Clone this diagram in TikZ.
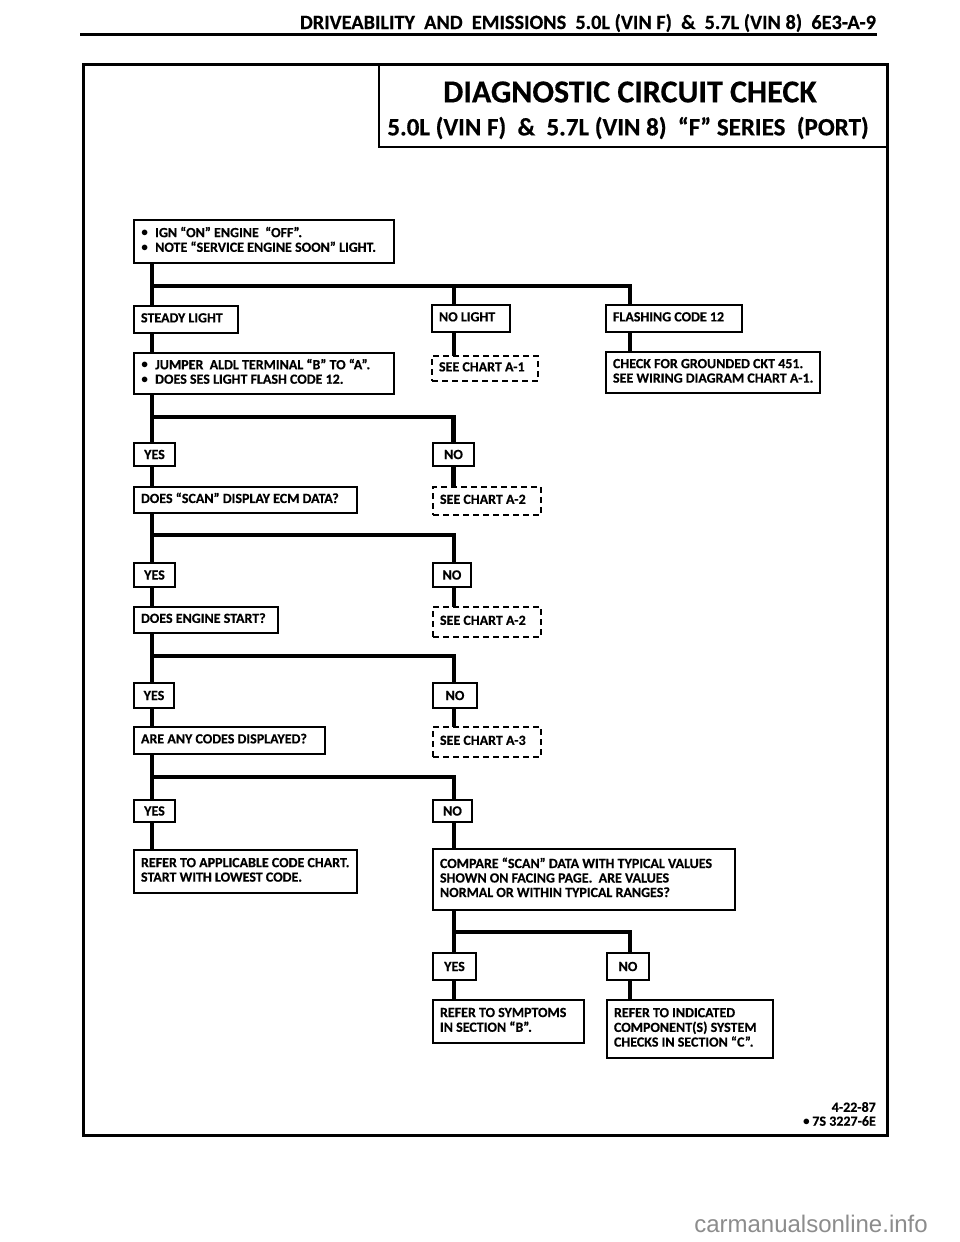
\documentclass[tikz,border=0pt]{standalone}
\usepackage{fontspec}
\setmainfont{Carlito}
\newfontfamily\bxf[BoldFeatures={FakeBold=0.4}]{Carlito}
\newfontfamily\hdf[BoldFeatures={FakeBold=0.4}]{Carlito}
\newfontfamily\wmf{Liberation Sans}
\newcommand\bt[2]{\makebox[#1][l]{\raisebox{-2pt}{\begin{tabular}{@{}l@{}}#2\end{tabular}}}}
\newcommand\bul{\raisebox{0.5pt}{$\bullet$}\hspace{7pt}}
\begin{document}
\begin{tikzpicture}[x=1pt,y=-1pt,
  box/.style={draw, line width=1.4pt, fill=white, anchor=north west, outer sep=0pt,
    inner xsep=7pt, inner ysep=0pt,
    font=\bxf\bfseries\fontsize{14}{14.5}\selectfont},
  dbox/.style={box, dash pattern=on 6pt off 4pt, line width=1.2pt},
  yn/.style={box, inner xsep=0pt},
  conn/.style={line width=4.5pt, line join=miter},
  hfont/.style={font=\hdf\bfseries\fontsize{#1}{#1}\selectfont}
]
\useasboundingbox (0,0) rectangle (960,1242);
\fill[white] (0,0) rectangle (960,1242);

% header
\node[anchor=base east, hfont=20.3, inner sep=0pt] (hdr) at (876,29)
  {DRIVEABILITY\ \ AND\ \ EMISSIONS\ \ 5.0L (VIN F)\ \ \&\ \ 5.7L (VIN 8)\ \ 6E3-A-9};
\draw[line width=2.5pt] (80,34.5) -- (877,34.5);

% frame and title box
\node[draw, line width=1.6pt, minimum width=508pt, minimum height=83pt, anchor=north west, outer sep=0pt, inner sep=0pt] (titlebox) at (379,64) {};
\draw[line width=3pt] (83,64) rectangle (887,1135);
\node[hfont=32] (t1) at (630,92) {DIAGNOSTIC CIRCUIT CHECK};
\node[hfont=25] (t2) at (628,128) {5.0L (VIN F) \ \& \ 5.7L (VIN 8) \ “F” SERIES \ (PORT)};

% column coordinates
\coordinate (T) at (152,0);
\coordinate (M) at (454,0);
\coordinate (R) at (630,0);

% boxes
\node[box, minimum width=260pt, minimum height=43pt] (top) at (134,220)
  {\bt{246pt}{\bul IGN “ON” ENGINE \ “OFF”.\\\bul NOTE “SERVICE ENGINE SOON” LIGHT.}};
\node[box, minimum width=104pt, minimum height=27pt] (steady) at (134,306) {\bt{90pt}{STEADY LIGHT}};
\node[box, minimum width=78pt, minimum height=27pt] (nolight) at (432,305) {\bt{64pt}{NO LIGHT}};
\node[box, minimum width=136pt, minimum height=27pt] (flash) at (606,305) {\bt{122pt}{FLASHING CODE 12}};
\node[box, minimum width=260pt, minimum height=41pt] (jumper) at (134,353)
  {\bt{246pt}{\bul JUMPER \ ALDL TERMINAL “B” TO “A”.\\\bul DOES SES LIGHT FLASH CODE 12.}};
\node[dbox, minimum width=106pt, minimum height=25pt] (seeA1) at (432,356) {\bt{92pt}{SEE CHART A-1}};
\node[box, minimum width=214pt, minimum height=41pt] (check) at (606,352)
  {\bt{200pt}{CHECK FOR GROUNDED CKT 451.\\SEE WIRING DIAGRAM CHART A-1.}};

\node[yn, minimum width=41pt, minimum height=23pt] (yes1) at (134,443) {YES};
\node[yn, minimum width=41pt, minimum height=23pt] (no1) at (433,443) {NO};
\node[box, minimum width=223pt, minimum height=26pt] (scan) at (134,487) {\bt{209pt}{DOES “SCAN” DISPLAY ECM DATA?}};
\node[dbox, minimum width=108pt, minimum height=28pt] (seeA2) at (433,487) {\bt{94pt}{SEE CHART A-2}};

\node[yn, minimum width=41pt, minimum height=24pt] (yes2) at (134,563) {YES};
\node[yn, minimum width=38pt, minimum height=24pt] (no2) at (433,563) {NO};
\node[box, minimum width=144pt, minimum height=26pt] (engine) at (134,607) {\bt{130pt}{DOES ENGINE START?}};
\node[dbox, minimum width=108pt, minimum height=30pt] (seeA2b) at (433,607) {\bt{94pt}{SEE CHART A-2}};

\node[yn, minimum width=40pt, minimum height=25pt] (yes3) at (134,683) {YES};
\node[yn, minimum width=44pt, minimum height=25pt] (no3) at (433,683) {NO};
\node[box, minimum width=191pt, minimum height=27pt] (codes) at (134,727) {\bt{177pt}{ARE ANY CODES DISPLAYED?}};
\node[dbox, minimum width=108pt, minimum height=30pt] (seeA3) at (433,727) {\bt{94pt}{SEE CHART A-3}};

\node[yn, minimum width=41pt, minimum height=22pt] (yes4) at (134,800) {YES};
\node[yn, minimum width=39pt, minimum height=22pt] (no4) at (433,800) {NO};
\node[box, minimum width=223pt, minimum height=43pt] (applic) at (134,850)
  {\bt{209pt}{REFER TO APPLICABLE CODE CHART.\\START WITH LOWEST CODE.}};
\node[box, minimum width=302pt, minimum height=61pt] (compare) at (433,849)
  {\bt{288pt}{COMPARE “SCAN” DATA WITH TYPICAL VALUES\\SHOWN ON FACING PAGE. \ ARE VALUES\\NORMAL OR WITHIN TYPICAL RANGES?}};

\node[yn, minimum width=43pt, minimum height=27pt] (yes5) at (433,953) {YES};
\node[yn, minimum width=42pt, minimum height=27pt] (no5) at (607,953) {NO};
\node[box, minimum width=151pt, minimum height=43pt] (symp) at (433,1000)
  {\bt{137pt}{REFER TO SYMPTOMS\\IN SECTION “B”.}};
\node[box, minimum width=166pt, minimum height=58pt] (indic) at (607,1000)
  {\bt{152pt}{REFER TO INDICATED\\COMPONENT(S) SYSTEM\\CHECKS IN SECTION “C”.}};

% connectors
\coordinate (b1) at (152,286);
\coordinate (b2) at (152,417);
\coordinate (b3) at (152,535);
\coordinate (b4) at (152,656);
\coordinate (b5) at (152,777);
\coordinate (b6) at (454,932);

\draw[conn] (top.south -| T) -- (steady.north -| T);
\draw[conn] (b1) -- (b1 -| R) -- (flash.north -| R);
\draw[conn] (b1 -| M) -- (nolight.north -| M);
\draw[conn] (steady.south -| T) -- (jumper.north -| T);
\draw[conn] (nolight.south -| M) -- (seeA1.north -| M);
\draw[conn] (flash.south -| R) -- (check.north -| R);

\draw[conn] (jumper.south -| T) -- (yes1.north -| T);
\draw[conn] (b2) -- (b2 -| no1.north) -- (no1.north);
\draw[conn] (yes1.south -| T) -- (scan.north -| T);
\draw[conn] (no1.south) -- (seeA2.north -| no1.south);

\draw[conn] (scan.south -| T) -- (yes2.north -| T);
\draw[conn] (b3) -- (b3 -| M) -- (no2.north -| M);
\draw[conn] (yes2.south -| T) -- (engine.north -| T);
\draw[conn] (no2.south -| M) -- (seeA2b.north -| M);

\draw[conn] (engine.south -| T) -- (yes3.north -| T);
\draw[conn] (b4) -- (b4 -| M) -- (no3.north -| M);
\draw[conn] (yes3.south -| T) -- (codes.north -| T);
\draw[conn] (no3.south -| M) -- (seeA3.north -| M);

\draw[conn] (codes.south -| T) -- (yes4.north -| T);
\draw[conn] (b5) -- (b5 -| M) -- (no4.north -| M);
\draw[conn] (yes4.south -| T) -- (applic.north -| T);
\draw[conn] (no4.south -| M) -- (compare.north -| M);

\draw[conn] (compare.south -| M) -- (yes5.north -| M);
\draw[conn] (b6) -- (b6 -| R) -- (no5.north -| R);
\draw[conn] (yes5.south -| M) -- (symp.north -| M);
\draw[conn] (no5.south -| R) -- (indic.north -| R);

% footer
\node[anchor=east, hfont=14, inner sep=0pt] (d1) at (876,1107) {4-22-87};
\node[anchor=east, hfont=14, inner sep=0pt] (d2) at (876,1121) {$\bullet$\,7S 3227-6E};
\node[text=black!45, font=\wmf\fontsize{24}{24}\selectfont] (wm) at (811,1224) {carmanualsonline.info};
\end{tikzpicture}
\end{document}
